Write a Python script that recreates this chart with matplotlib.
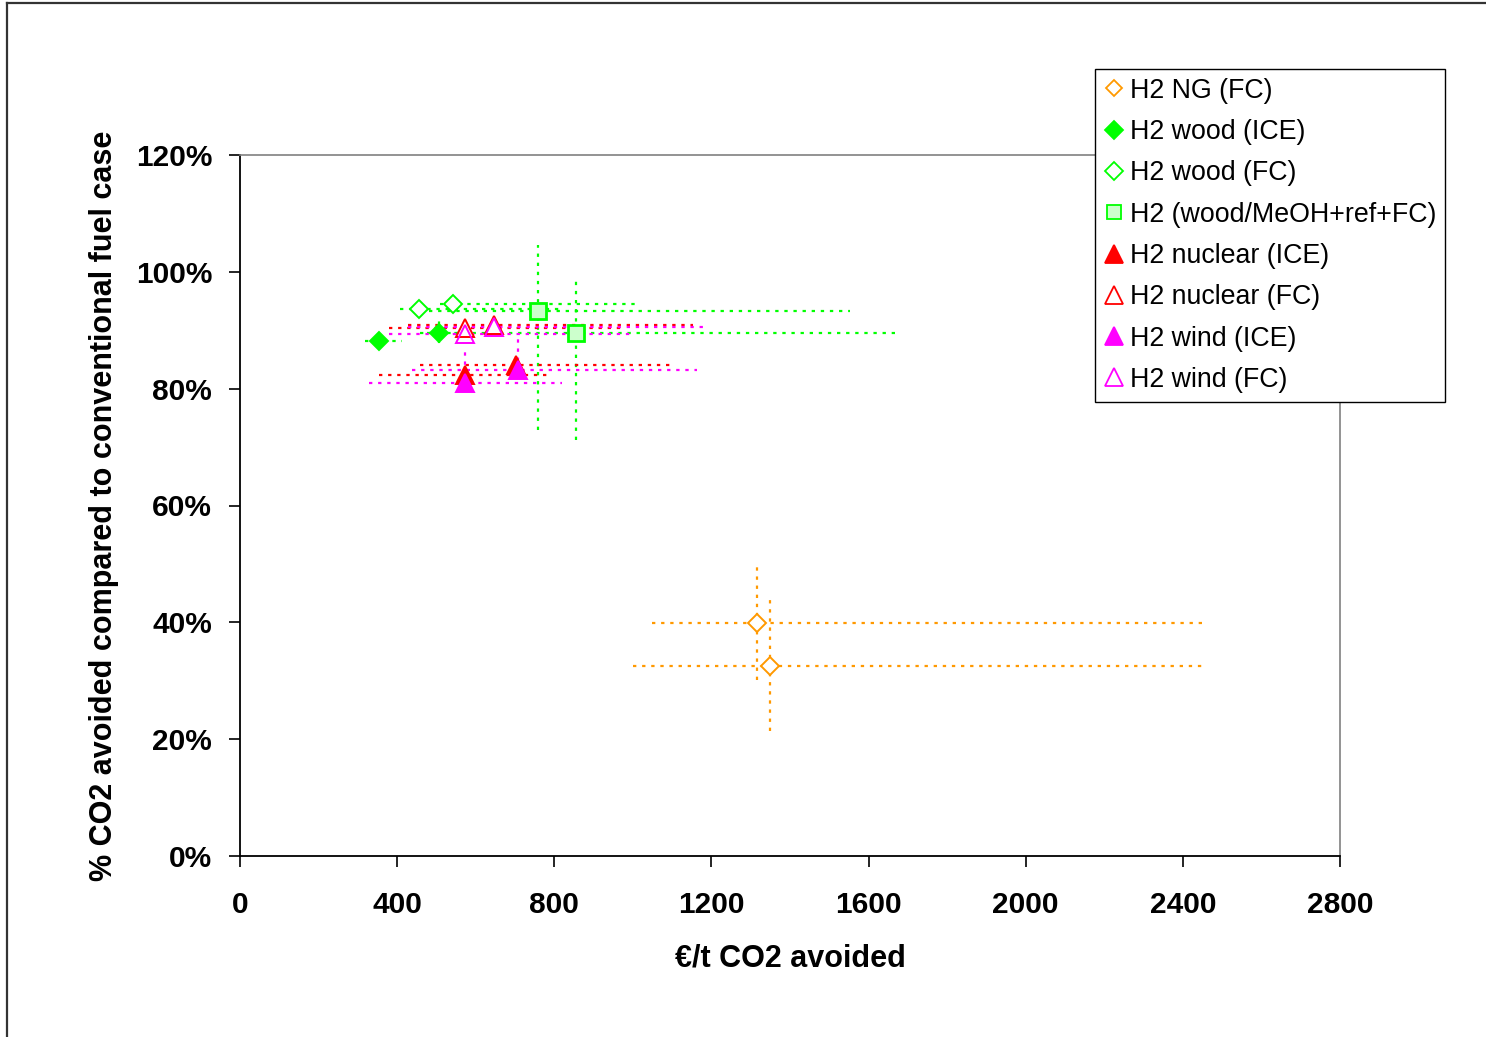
import matplotlib
matplotlib.use("Agg")
import matplotlib.pyplot as plt
from matplotlib.lines import Line2D
from matplotlib.ticker import FuncFormatter

plt.rcParams['font.family'] = ['Liberation Sans', 'DejaVu Sans']

# values: point, then error-bar ends (x in EUR/t, y in %)
ng_fc_x = [1316, 1349]
ng_fc_y = [39.9, 32.5]
ng_fc_xlo = [1049, 1000]
ng_fc_xhi = [2456, 2461]
ng_fc_ylo = [30.1, 21.4]
ng_fc_yhi = [49.6, 43.8]

wood_ice_x = [355, 507]
wood_ice_y = [88.2, 89.6]
wood_ice_xlo = [318, 458]
wood_ice_xhi = [412, 585]
wood_ice_ylo = [88.2, 87.8]
wood_ice_yhi = [88.2, 91.6]

wood_fc_x = [455, 541]
wood_fc_y = [93.6, 94.5]
wood_fc_xlo = [407, 509]
wood_fc_xhi = [815, 1018]
wood_fc_ylo = [93.6, 94.5]
wood_fc_yhi = [93.6, 94.5]

meoh_x = [758, 855]
meoh_y = [93.3, 89.5]
meoh_xlo = [481, 476]
meoh_xhi = [1553, 1680]
meoh_ylo = [72.9, 71.2]
meoh_yhi = [104.6, 98.9]

nuc_ice_x = [573, 702]
nuc_ice_y = [82.3, 84.0]
nuc_ice_xlo = [354, 458]
nuc_ice_xhi = [789, 1107]
nuc_ice_ylo = [82.3, 84.0]
nuc_ice_yhi = [82.3, 84.0]

nuc_fc_x = [573, 647]
nuc_fc_y = [90.4, 90.9]
nuc_fc_xlo = [379, 428]
nuc_fc_xhi = [972, 1153]
nuc_fc_ylo = [90.4, 90.9]
nuc_fc_yhi = [90.4, 90.9]

wind_ice_x = [573, 708]
wind_ice_y = [81.0, 83.2]
wind_ice_xlo = [328, 438]
wind_ice_xhi = [820, 1163]
wind_ice_ylo = [81.0, 83.2]
wind_ice_yhi = [86.8, 89.2]

wind_fc_x = [573, 647]
wind_fc_y = [89.4, 90.6]
wind_fc_xlo = [379, 428]
wind_fc_xhi = [1000, 1179]
wind_fc_ylo = [89.4, 90.6]
wind_fc_yhi = [89.4, 90.6]

labels = ["H2 NG (FC)", "H2 wood (ICE)", "H2 wood (FC)", "H2 (wood/MeOH+ref+FC)",
          "H2 nuclear (ICE)", "H2 nuclear (FC)", "H2 wind (ICE)", "H2 wind (FC)"]

x_ticks = [0, 400, 800, 1200, 1600, 2000, 2400, 2800]
y_ticks = [0, 20, 40, 60, 80, 100, 120]

ORANGE = "#FF9900"
GREEN = "#00FF00"
RED = "#FF0000"
MAGENTA = "#FF00FF"
DOT = (0, (1.5, 2.6))

# label, data, edge colour, face colour, marker, size
series = [
    (labels[0], (ng_fc_x, ng_fc_y, ng_fc_xlo, ng_fc_xhi, ng_fc_ylo, ng_fc_yhi), ORANGE, "white", "D", 8.8),
    (labels[1], (wood_ice_x, wood_ice_y, wood_ice_xlo, wood_ice_xhi, wood_ice_ylo, wood_ice_yhi), GREEN, GREEN, "D", 9.5),
    (labels[2], (wood_fc_x, wood_fc_y, wood_fc_xlo, wood_fc_xhi, wood_fc_ylo, wood_fc_yhi), GREEN, "white", "D", 9.5),
    (labels[3], (meoh_x, meoh_y, meoh_xlo, meoh_xhi, meoh_ylo, meoh_yhi), GREEN, "#CCFFCC", "s", 11),
    (labels[4], (nuc_ice_x, nuc_ice_y, nuc_ice_xlo, nuc_ice_xhi, nuc_ice_ylo, nuc_ice_yhi), RED, RED, "^", 13),
    (labels[5], (nuc_fc_x, nuc_fc_y, nuc_fc_xlo, nuc_fc_xhi, nuc_fc_ylo, nuc_fc_yhi), RED, "white", "^", 13),
    (labels[6], (wind_ice_x, wind_ice_y, wind_ice_xlo, wind_ice_xhi, wind_ice_ylo, wind_ice_yhi), MAGENTA, MAGENTA, "^", 13),
    (labels[7], (wind_fc_x, wind_fc_y, wind_fc_xlo, wind_fc_xhi, wind_fc_ylo, wind_fc_yhi), MAGENTA, "none", "^", 13),
]

fig = plt.figure(figsize=(14.86, 10.37), dpi=100)
ax = fig.add_axes([240 / 1486, 1 - 856 / 1037, 1100 / 1486, 701 / 1037])

# error bars first, markers on top
for lab, (x, y, xlo, xhi, ylo, yhi), ec, fc, mk, ms in series:
    ax.hlines(y, xlo, xhi, colors=ec, linestyles=DOT, linewidth=1.6, zorder=2)
    ax.vlines(x, ylo, yhi, colors=ec, linestyles=DOT, linewidth=1.6, zorder=2)

handles = []
for i, (lab, (x, y, xlo, xhi, ylo, yhi), ec, fc, mk, ms) in enumerate(series):
    mew = 2.0 if mk == "s" else 1.4
    ax.plot(x, y, ls="none", marker=mk, ms=ms, mfc=fc, mec=ec, mew=mew, zorder=3 + i)
    handles.append(Line2D([], [], ls="none", marker=mk, ms=ms * 0.95, mfc=fc, mec=ec, mew=1.3, label=lab))

ax.set_xlim(0, 2800)
ax.set_ylim(0, 120)
ax.set_xticks(x_ticks)
ax.set_yticks(y_ticks)
ax.yaxis.set_major_formatter(FuncFormatter(lambda v, p: "%d%%" % v))
ax.tick_params(axis="both", direction="out", length=8, width=1.2, labelsize=21.5)
ax.tick_params(axis="x", pad=17)
ax.tick_params(axis="y", pad=12)
for t in ax.get_xticklabels() + ax.get_yticklabels():
    t.set_fontweight("bold")

for s in ["top", "right"]:
    ax.spines[s].set_color("#808080")
    ax.spines[s].set_linewidth(1.2)
for s in ["left", "bottom"]:
    ax.spines[s].set_color("black")
    ax.spines[s].set_linewidth(1.3)

ax.set_xlabel("€/t CO2 avoided", fontsize=22, fontweight="bold", labelpad=18)
ax.set_ylabel("% CO2 avoided compared to conventional fuel case", fontsize=22,
              fontweight="bold", labelpad=12)

leg = fig.legend(handles=handles, loc="upper right", bbox_to_anchor=(1445 / 1486, 1 - 69 / 1037),
                 bbox_transform=fig.transFigure, fontsize=19.3, frameon=True, fancybox=False,
                 framealpha=1, edgecolor="black", borderpad=0.33, handlelength=0.75,
                 handletextpad=0.2, labelspacing=0.57, borderaxespad=0)
leg.get_frame().set_linewidth(1.0)
leg.set_zorder(10)

# page border (left and top edges visible)
fig.add_artist(Line2D([7 / 1486, 7 / 1486], [0, 1 - 3 / 1037], color="#333333", lw=1.6, transform=fig.transFigure))
fig.add_artist(Line2D([7 / 1486, 1], [1 - 3 / 1037, 1 - 3 / 1037], color="#333333", lw=1.6, transform=fig.transFigure))

fig.savefig("out.png", dpi=100, facecolor="white")
